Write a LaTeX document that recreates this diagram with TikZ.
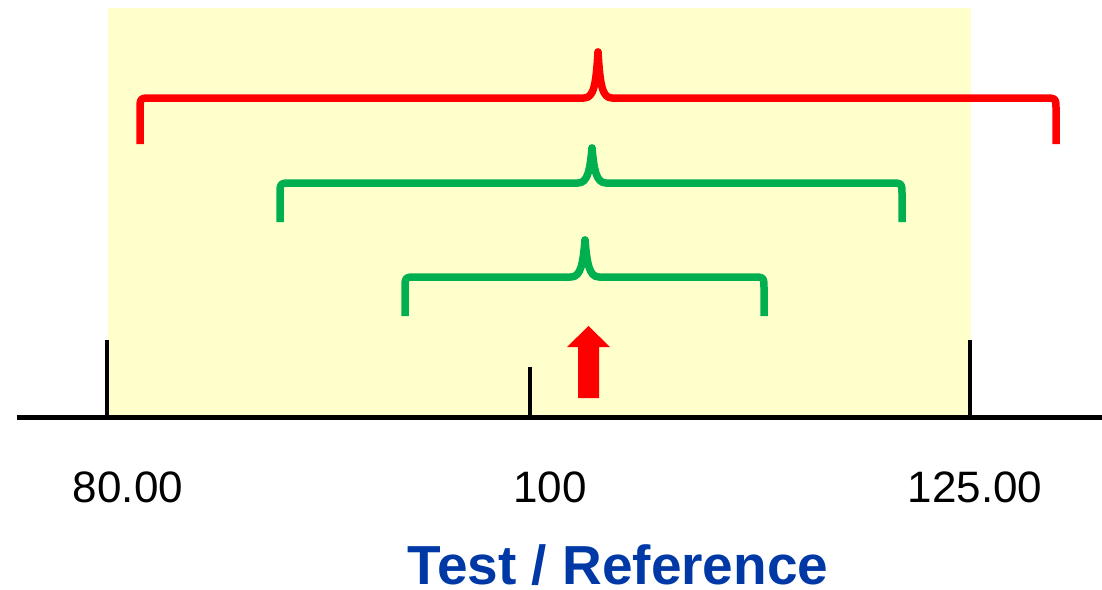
\documentclass[tikz,border=0pt]{standalone}
\usepackage{fontspec}
\setmainfont{Liberation Sans}
\definecolor{zone}{HTML}{FFFFCC}
\definecolor{bgreen}{HTML}{00B050}
\definecolor{titleblue}{HTML}{0039A6}
\tikzset{
  brace/.style={line width=7.5pt, line join=round},
  axisline/.style={line width=5pt},
  tick/.style={line width=4pt},
  ticklabel/.style={font=\fontsize{44}{48}\selectfont, anchor=center},
}
% draws a curly brace: left x, right x, peak x, bar y, peak y, end y
\newcommand\drawbrace[7]{%
  \draw[brace,#1] (#2,#7) -- (#2,#5+12) .. controls (#2,#5) .. (#2+12,#5)
    -- (#4-14,#5) .. controls (#4-4,#5) and (#4-2,#5-14) .. (#4,#6)
    .. controls (#4+2,#5-14) and (#4+4,#5) .. (#4+14,#5)
    -- (#3-12,#5) .. controls (#3,#5) .. (#3,#5+12) -- (#3,#7);
  \fill[#1] (#4,#6) circle (3.7pt);
}
\begin{document}
\begin{tikzpicture}[x=1pt,y=-1pt]
  \useasboundingbox (0,0) rectangle (1102,589);
  % acceptance zone
  \fill[zone] (108,8) rectangle (971,415);
  % axis and ticks
  \draw[axisline] (17,417) -- (1102,417);
  \draw[tick] (107,340) -- (107,417);
  \draw[tick] (530,367) -- (530,417);
  \draw[tick] (970,340) -- (970,417);
  % confidence intervals
  \drawbrace{red}{140}{1056}{598}{98}{52}{144}
  \drawbrace{bgreen}{280}{902}{592}{183}{148}{222}
  \drawbrace{bgreen}{405}{764}{585}{277}{240}{316}
  % point estimate
  \fill[red] (578,398) -- (578,347) -- (567,347) -- (588.5,326) -- (610,347)
    -- (599,347) -- (599,398) -- cycle;
  % labels
  \node[ticklabel] (l80) at (128,487) {80.00};
  \node[ticklabel] (l100) at (550,487) {100};
  \node[ticklabel] (l125) at (975,487) {125.00};
  \node[font=\fontsize{55}{60}\selectfont\bfseries, text=titleblue, anchor=base, inner sep=0pt] (title) at (618,584) {Test / Reference};
\end{tikzpicture}
\end{document}
